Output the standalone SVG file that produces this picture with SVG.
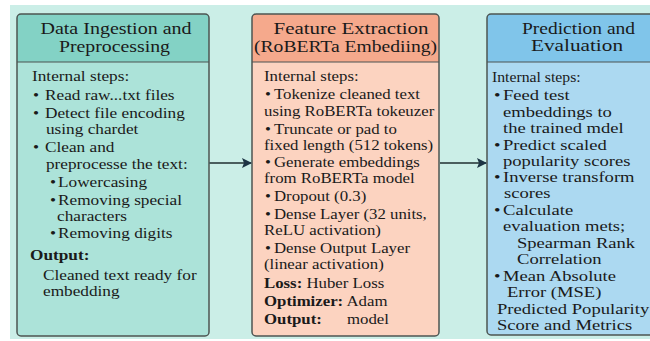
<svg xmlns="http://www.w3.org/2000/svg" width="650" height="341" viewBox="0 0 650 341">
<defs>
<style>
text{font-family:'Liberation Serif','DejaVu Serif','Times New Roman',serif;fill:#1a1a1a}
.t{font-size:16px;text-anchor:middle}
.b{font-size:15px}
.bold{font-weight:bold}
.box{stroke:#4d5552;stroke-width:1.5}
.div{stroke:#4d5552;stroke-width:1.2}
.conn{stroke:#4a5e5e;stroke-width:2;fill:none}
</style>
<marker id="ah" viewBox="0 0 10 10" refX="9" refY="5" markerWidth="10" markerHeight="10" markerUnits="userSpaceOnUse" orient="auto">
<path d="M0,0 L10,5 L0,10 L2,5 Z" fill="#1d3444"/>
</marker>
</defs>
<rect x="0" y="0" width="650" height="341" fill="#ffffff"/>
<rect x="10" y="5" width="640" height="334" fill="#cbeee7"/>

<g id="node-ingestion">
<rect x="17" y="14" width="192" height="322" rx="4" fill="#ace3d9"/>
<path d="M17,62 V18 A4,4 0 0 1 21,14 H205 A4,4 0 0 1 209,18 V62 Z" fill="#83d2c5"/>
<rect x="17" y="14" width="192" height="322" rx="4" fill="none" class="box"/>
<line class="div" x1="17" y1="62" x2="209" y2="62"/>
<text class="t" x="116" y="34" textLength="151" lengthAdjust="spacingAndGlyphs">Data Ingestion and</text>
<text class="t" x="114.5" y="52" textLength="111" lengthAdjust="spacingAndGlyphs">Preprocessing</text>
<g transform="scale(1.15 1)">
<text class="b" x="27.83" y="81">Internal steps:</text>
<text class="b" x="28.7" y="100">•</text><text class="b" x="39.13" y="100">Read raw...txt files</text>
<text class="b" x="28.7" y="118">•</text><text class="b" x="39.13" y="118">Detect file encoding</text>
<text class="b" x="40" y="134">using chardet</text>
<text class="b" x="28.7" y="152">•</text><text class="b" x="39.13" y="152">Clean and</text>
<text class="b" x="40" y="169">preprocesse the text:</text>
<text class="b" x="43.48" y="187">•</text><text class="b" x="50.43" y="187">Lowercasing</text>
<text class="b" x="43.48" y="205">•</text><text class="b" x="50.43" y="205">Removing special</text>
<text class="b" x="49.57" y="221">characters</text>
<text class="b" x="43.48" y="238">•</text><text class="b" x="50.43" y="238">Removing digits</text>
<text class="b bold" x="26.09" y="260">Output:</text>
<text class="b" x="37.39" y="280">Cleaned text ready for</text>
<text class="b" x="37.39" y="296">embedding</text>
</g>
</g>

<g id="node-feature">
<rect x="252" y="14" width="187" height="322" rx="4" fill="#fcd3c0"/>
<path d="M252,62 V18 A4,4 0 0 1 256,14 H435 A4,4 0 0 1 439,18 V62 Z" fill="#f5a98c"/>
<rect x="252" y="14" width="187" height="322" rx="4" fill="none" class="box"/>
<line class="div" x1="252" y1="62" x2="439" y2="62"/>
<text class="t" x="351" y="34" textLength="155" lengthAdjust="spacingAndGlyphs">Feature Extraction</text>
<text class="t" x="345.5" y="52" textLength="183" lengthAdjust="spacingAndGlyphs">(RoBERTa Embediing)</text>
<g transform="scale(1.12 1)">
<text class="b" x="235.71" y="81">Internal steps:</text>
<text class="b" x="236.61" y="99">•</text><text class="b" x="244.64" y="99">Tokenize cleaned text</text>
<text class="b" x="235.71" y="116">using RoBERTa tokeuzer</text>
<text class="b" x="236.61" y="134">•</text><text class="b" x="244.64" y="134">Truncate or pad to</text>
<text class="b" x="235.71" y="150">fixed length (512 tokens)</text>
<text class="b" x="236.61" y="167">•</text><text class="b" x="244.64" y="167">Generate embeddings</text>
<text class="b" x="235.71" y="183">from RoBERTa model</text>
<text class="b" x="236.61" y="201">•</text><text class="b" x="244.64" y="201">Dropout (0.3)</text>
<text class="b" x="236.61" y="219">•</text><text class="b" x="244.64" y="219">Dense Layer (32 units,</text>
<text class="b" x="235.71" y="235">ReLU activation)</text>
<text class="b" x="236.61" y="253">•</text><text class="b" x="244.64" y="253">Dense Output Layer</text>
<text class="b" x="235.71" y="269">(linear activation)</text>
<text class="b" x="235.71" y="288"><tspan class="bold">Loss:</tspan> Huber Loss</text>
<text class="b" x="235.71" y="306"><tspan class="bold">Optimizer:</tspan> Adam</text>
<text class="b" x="235.71" y="324"><tspan class="bold">Output:</tspan><tspan x="309.82">model</tspan></text>
</g>
</g>

<g id="node-prediction">
<rect x="487" y="14" width="183" height="321" rx="4" fill="#acd9f1"/>
<path d="M487,62 V18 A4,4 0 0 1 491,14 H666 A4,4 0 0 1 670,18 V62 Z" fill="#80c5ea"/>
<rect x="487" y="14" width="183" height="321" rx="4" fill="none" class="box"/>
<line class="div" x1="487" y1="62" x2="670" y2="62"/>
<text class="t" x="578.5" y="34" textLength="113" lengthAdjust="spacingAndGlyphs">Prediction and</text>
<text class="t" x="577" y="51" textLength="92" lengthAdjust="spacingAndGlyphs">Evaluation</text>
<g transform="scale(1.05 1)">
<text class="b" x="468.57" y="82">Internal steps:</text>
</g>
<g transform="scale(1.24 1)">
<text class="b" x="398.39" y="100">•</text><text class="b" x="405.65" y="100">Feed test</text>
<text class="b" x="405.65" y="117">embeddings to</text>
<text class="b" x="405.65" y="133">the trained mdel</text>
<text class="b" x="398.39" y="150">•</text><text class="b" x="405.65" y="150">Predict scaled</text>
<text class="b" x="405.65" y="166">popularity scores</text>
<text class="b" x="398.39" y="182">•</text><text class="b" x="405.65" y="182">Inverse transform</text>
<text class="b" x="406.45" y="198">scores</text>
<text class="b" x="398.39" y="215">•</text><text class="b" x="405.65" y="215">Calculate</text>
<text class="b" x="405.65" y="231">evaluation mets;</text>
<text class="b" x="416.94" y="248">Spearman Rank</text>
<text class="b" x="416.94" y="264">Correlation</text>
<text class="b" x="398.39" y="281">•</text><text class="b" x="405.65" y="281">Mean Absolute</text>
<text class="b" x="408.87" y="297">Error (MSE)</text>
<text class="b" x="400.81" y="314">Predicted Popularity</text>
<text class="b" x="400.81" y="330">Score and Metrics</text>
</g>
</g>

<g id="connectors">
<line class="conn" x1="209" y1="163" x2="251" y2="163" marker-end="url(#ah)"/>
<line class="conn" x1="440" y1="163" x2="486" y2="163" marker-end="url(#ah)"/>
</g>
</svg>
